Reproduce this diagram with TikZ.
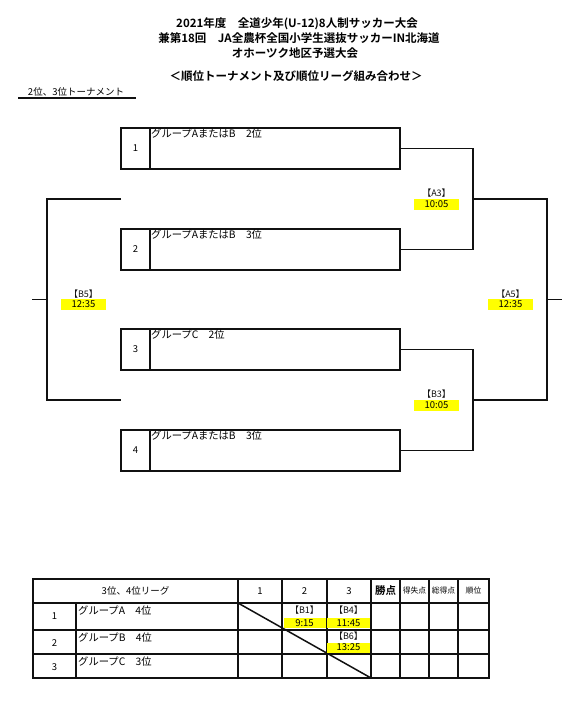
\documentclass[tikz,border=0pt]{standalone}
\usepackage{fontspec}
\setmainfont{Noto Sans CJK JP}[BoldFont={Noto Sans CJK JP Bold}]
\usetikzlibrary{positioning}
\definecolor{oskInk}{HTML}{111111}
\definecolor{oskMark}{HTML}{FFFF00}
\tikzset{
  osk frame/.style={draw=oskInk, line width=2.2pt, outer sep=0pt},
  osk line/.style={draw=oskInk, line width=1.9pt},
  osk rule/.style={draw=oskInk, line width=1.5pt},
  osk num/.style={osk frame, minimum width=29pt, minimum height=41pt, inner sep=0pt, font=\fontsize{9.5}{10}\selectfont},
  osk slot/.style={osk frame, minimum width=250pt, minimum height=41pt, inner sep=0pt},
  osk name/.style={anchor=north west, inner sep=1pt, font=\fontsize{10.3}{11}\selectfont},
  osk match/.style={inner sep=0pt, font=\fontsize{9}{10}\selectfont, text=oskInk},
  osk time/.style={fill=oskMark, minimum width=45pt, minimum height=11pt, inner sep=0pt, font=\fontsize{9.5}{10}\selectfont},
  osk title/.style={font=\bfseries\fontsize{11.5}{12}\selectfont},
  osk head/.style={font=\fontsize{9.5}{10}\selectfont},
  osk tiny/.style={font=\fontsize{7.8}{8}\selectfont},
}
\begin{document}
\begin{tikzpicture}[x=1pt,y=-1pt]
  \useasboundingbox (0,0) rectangle (582,703);

  % Titles
  \node[osk title] (title1) at (297,24) {2021年度　全道少年(U-12)8人制サッカー大会};
  \node[osk title] (title2) at (299,38.5) {兼第18回　JA全農杯全国小学生選抜サッカーIN北海道};
  \node[osk title] (title3) at (295,53) {オホーツク地区予選大会};
  \node[osk title] (title4) at (296,76) {＜順位トーナメント及び順位リーグ組み合わせ＞};

  \node[osk head] (sec) at (76,92) {2位、3位トーナメント};
  \coordinate (secl) at (18,98);
  \coordinate (secr) at (136,98);
  \draw[osk line] (secl) -- (secr);

  % Entry boxes
  \foreach \i/\yy/\txt in {1/148.5/グループAまたはB　2位, 2/249.5/グループAまたはB　3位, 3/349.5/グループC　2位, 4/450.5/グループAまたはB　3位} {
    \node[osk num] (n\i) at (135.5,\yy) {\i};
    \node[osk slot, right=0pt of n\i] (g\i) {};
    \node[osk name] (t\i) at (g\i.north west) {\txt};
  }

  % Right side of the bracket
  \coordinate (a3) at (473,199);
  \coordinate (b3) at (473,400);
  \coordinate (a5) at (547,299.5);
  \coordinate (outr) at (562,299.5);
  \draw[osk line] (g1.east) -| (a3) |- (g2.east);
  \draw[osk line] (g3.east) -| (b3) |- (g4.east);
  \draw[osk line] (a3) -| (a5) |- (b3);
  \draw[osk line] (a5) -- (outr);

  % Left side of the bracket
  \coordinate (b5) at (47,299.5);
  \coordinate (lt) at (121,199);
  \coordinate (lb) at (121,400);
  \coordinate (outl) at (32,299.5);
  \draw[osk line] (lt) -| (b5) |- (lb);
  \draw[osk line] (b5) -- (outl);

  % Match labels
  \node[osk match] (ma3) at (436.5,193) {【A3】};
  \node[osk time] (ta3) at (436.5,204.5) {10:05};
  \node[osk match] (mb3) at (436.5,394) {【B3】};
  \node[osk time] (tb3) at (436.5,405.5) {10:05};
  \node[osk match] (ma5) at (510.5,294) {【A5】};
  \node[osk time] (ta5) at (510.5,304.5) {12:35};
  \node[osk match] (mb5) at (83.5,294) {【B5】};
  \node[osk time] (tb5) at (83.5,304.5) {12:35};

  % League table
  \draw[osk frame] (33,579) rectangle (489,678);
  \draw[osk frame, line width=2.8pt] (33,603) -- (489,603);
  \foreach \y in {630,654} \draw[osk rule] (33,\y) -- (489,\y);
  \draw[osk rule] (76,603) -- (76,678);
  \foreach \x in {238,282,327,371,400,429,458} \draw[osk rule] (\x,579) -- (\x,678);
  \draw[osk rule] (238,603) -- (371,678);

  \node[osk head] (hl) at (135.5,591) {3位、4位リーグ};
  \foreach \c/\x in {1/260,2/304.5,3/349} \node[osk head] (h\c) at (\x,591) {\c};
  \node[osk head, font=\bfseries\fontsize{10.5}{11}\selectfont] (hpt) at (385.5,591) {勝点};
  \node[osk tiny] (hgd) at (414.5,591) {得失点};
  \node[osk tiny] (hgf) at (443.5,591) {総得点};
  \node[osk tiny] (hrk) at (473.5,591) {順位};

  \foreach \r/\y/\txt in {1/603/グループA　4位, 2/630/グループB　4位, 3/654/グループC　3位} {
    \node[osk head] (r\r) at (54.5,\y+13) {\r};
    \node[osk name] (rn\r) at (77,\y+1.5) {\txt};
  }

  \node[osk match] (m12) at (304.5,610) {【B1】};
  \node[osk time, minimum width=42pt, minimum height=10pt] (m12t) at (304.5,623) {9:15};
  \node[osk match] (m13) at (348.5,610) {【B4】};
  \node[osk time, minimum width=43pt, minimum height=10pt] (m13t) at (348.5,623) {11:45};
  \node[osk match] (m23) at (348.5,636.5) {【B6】};
  \node[osk time, minimum width=43pt, minimum height=10pt] (m23t) at (348.5,647.5) {13:25};
\end{tikzpicture}
\end{document}
